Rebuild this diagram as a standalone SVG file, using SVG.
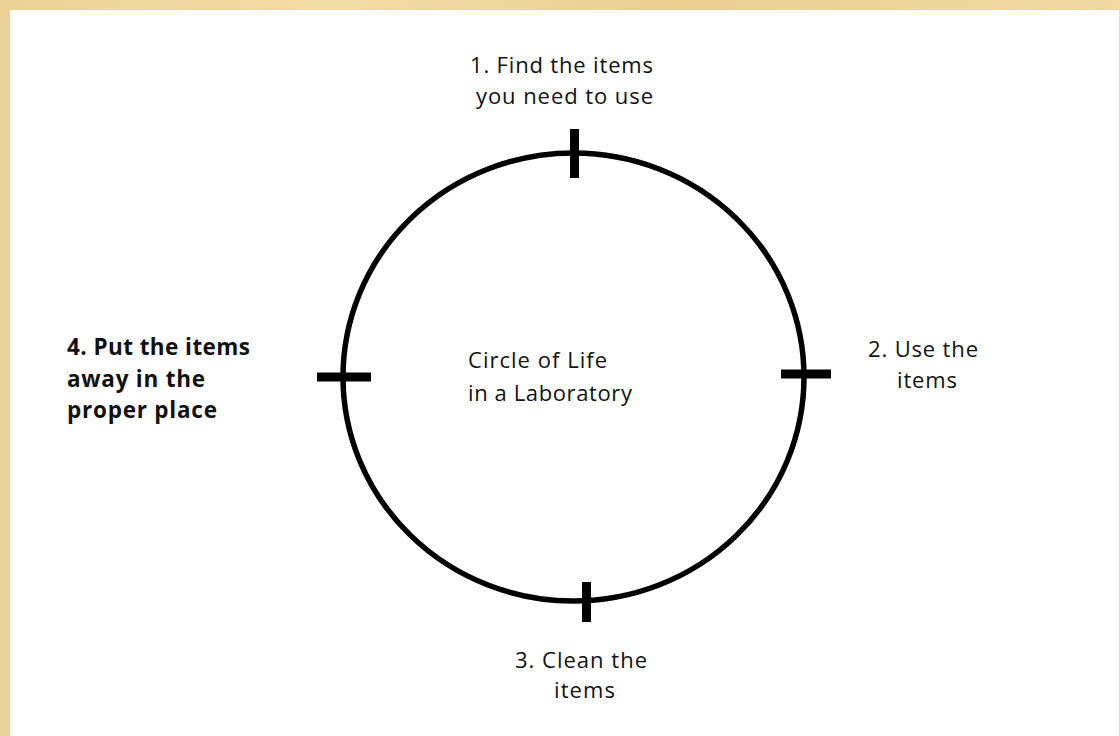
<svg xmlns="http://www.w3.org/2000/svg" width="1120" height="736" viewBox="0 0 1120 736">
  <style>
    .lbl { font-family: "Open Sans", "Liberation Sans", sans-serif; font-size: 22px; fill: #111; }
    .bold { font-weight: bold; font-size: 22.5px; }
    .ring { fill: none; stroke: #000; stroke-width: 5.5; }
    .tick { stroke: #000; stroke-width: 9; }
  </style>
  <defs>
    <linearGradient id="parch" x1="0" y1="0" x2="1" y2="0">
      <stop offset="0" stop-color="#EBD296"/>
      <stop offset="0.3" stop-color="#F2DCA6"/>
      <stop offset="0.6" stop-color="#E9CF92"/>
      <stop offset="1" stop-color="#F0D9A2"/>
    </linearGradient>
  </defs>
  <rect x="0" y="0" width="1120" height="736" fill="url(#parch)"/>
  <rect x="10" y="10" width="1109" height="726" fill="#FFFFFF"/>

  <g id="cycle">
    <ellipse class="ring" cx="573.5" cy="377" rx="230.5" ry="224"/>
  </g>

  <g id="connectors">
    <line class="tick" x1="574.5" y1="129" x2="574.5" y2="178"/>
    <line class="tick" x1="586.5" y1="582" x2="586.5" y2="622"/>
    <line class="tick" x1="317" y1="377" x2="371" y2="377"/>
    <line class="tick" x1="781" y1="374" x2="831" y2="374"/>
  </g>

  <g id="node-center">
    <text class="lbl" x="468" y="368" textLength="139" lengthAdjust="spacing">Circle of Life</text>
    <text class="lbl" x="468" y="401" textLength="164" lengthAdjust="spacing">in a Laboratory</text>
  </g>

  <g id="node-1">
    <text class="lbl" x="470" y="73" textLength="183" lengthAdjust="spacing">1. Find the items</text>
    <text class="lbl" x="476" y="104" textLength="177" lengthAdjust="spacing">you need to use</text>
  </g>

  <g id="node-2">
    <text class="lbl" x="868" y="357" textLength="110" lengthAdjust="spacing">2. Use the</text>
    <text class="lbl" x="897" y="388" textLength="60" lengthAdjust="spacing">items</text>
  </g>

  <g id="node-3">
    <text class="lbl" x="515" y="668" textLength="132" lengthAdjust="spacing">3. Clean the</text>
    <text class="lbl" x="554" y="698" textLength="61" lengthAdjust="spacing">items</text>
  </g>

  <g id="node-4">
    <text class="lbl bold" x="67" y="355" textLength="183" lengthAdjust="spacing">4. Put the items</text>
    <text class="lbl bold" x="67" y="387" textLength="138" lengthAdjust="spacing">away in the</text>
    <text class="lbl bold" x="67" y="418" textLength="150" lengthAdjust="spacing">proper place</text>
  </g>
</svg>
